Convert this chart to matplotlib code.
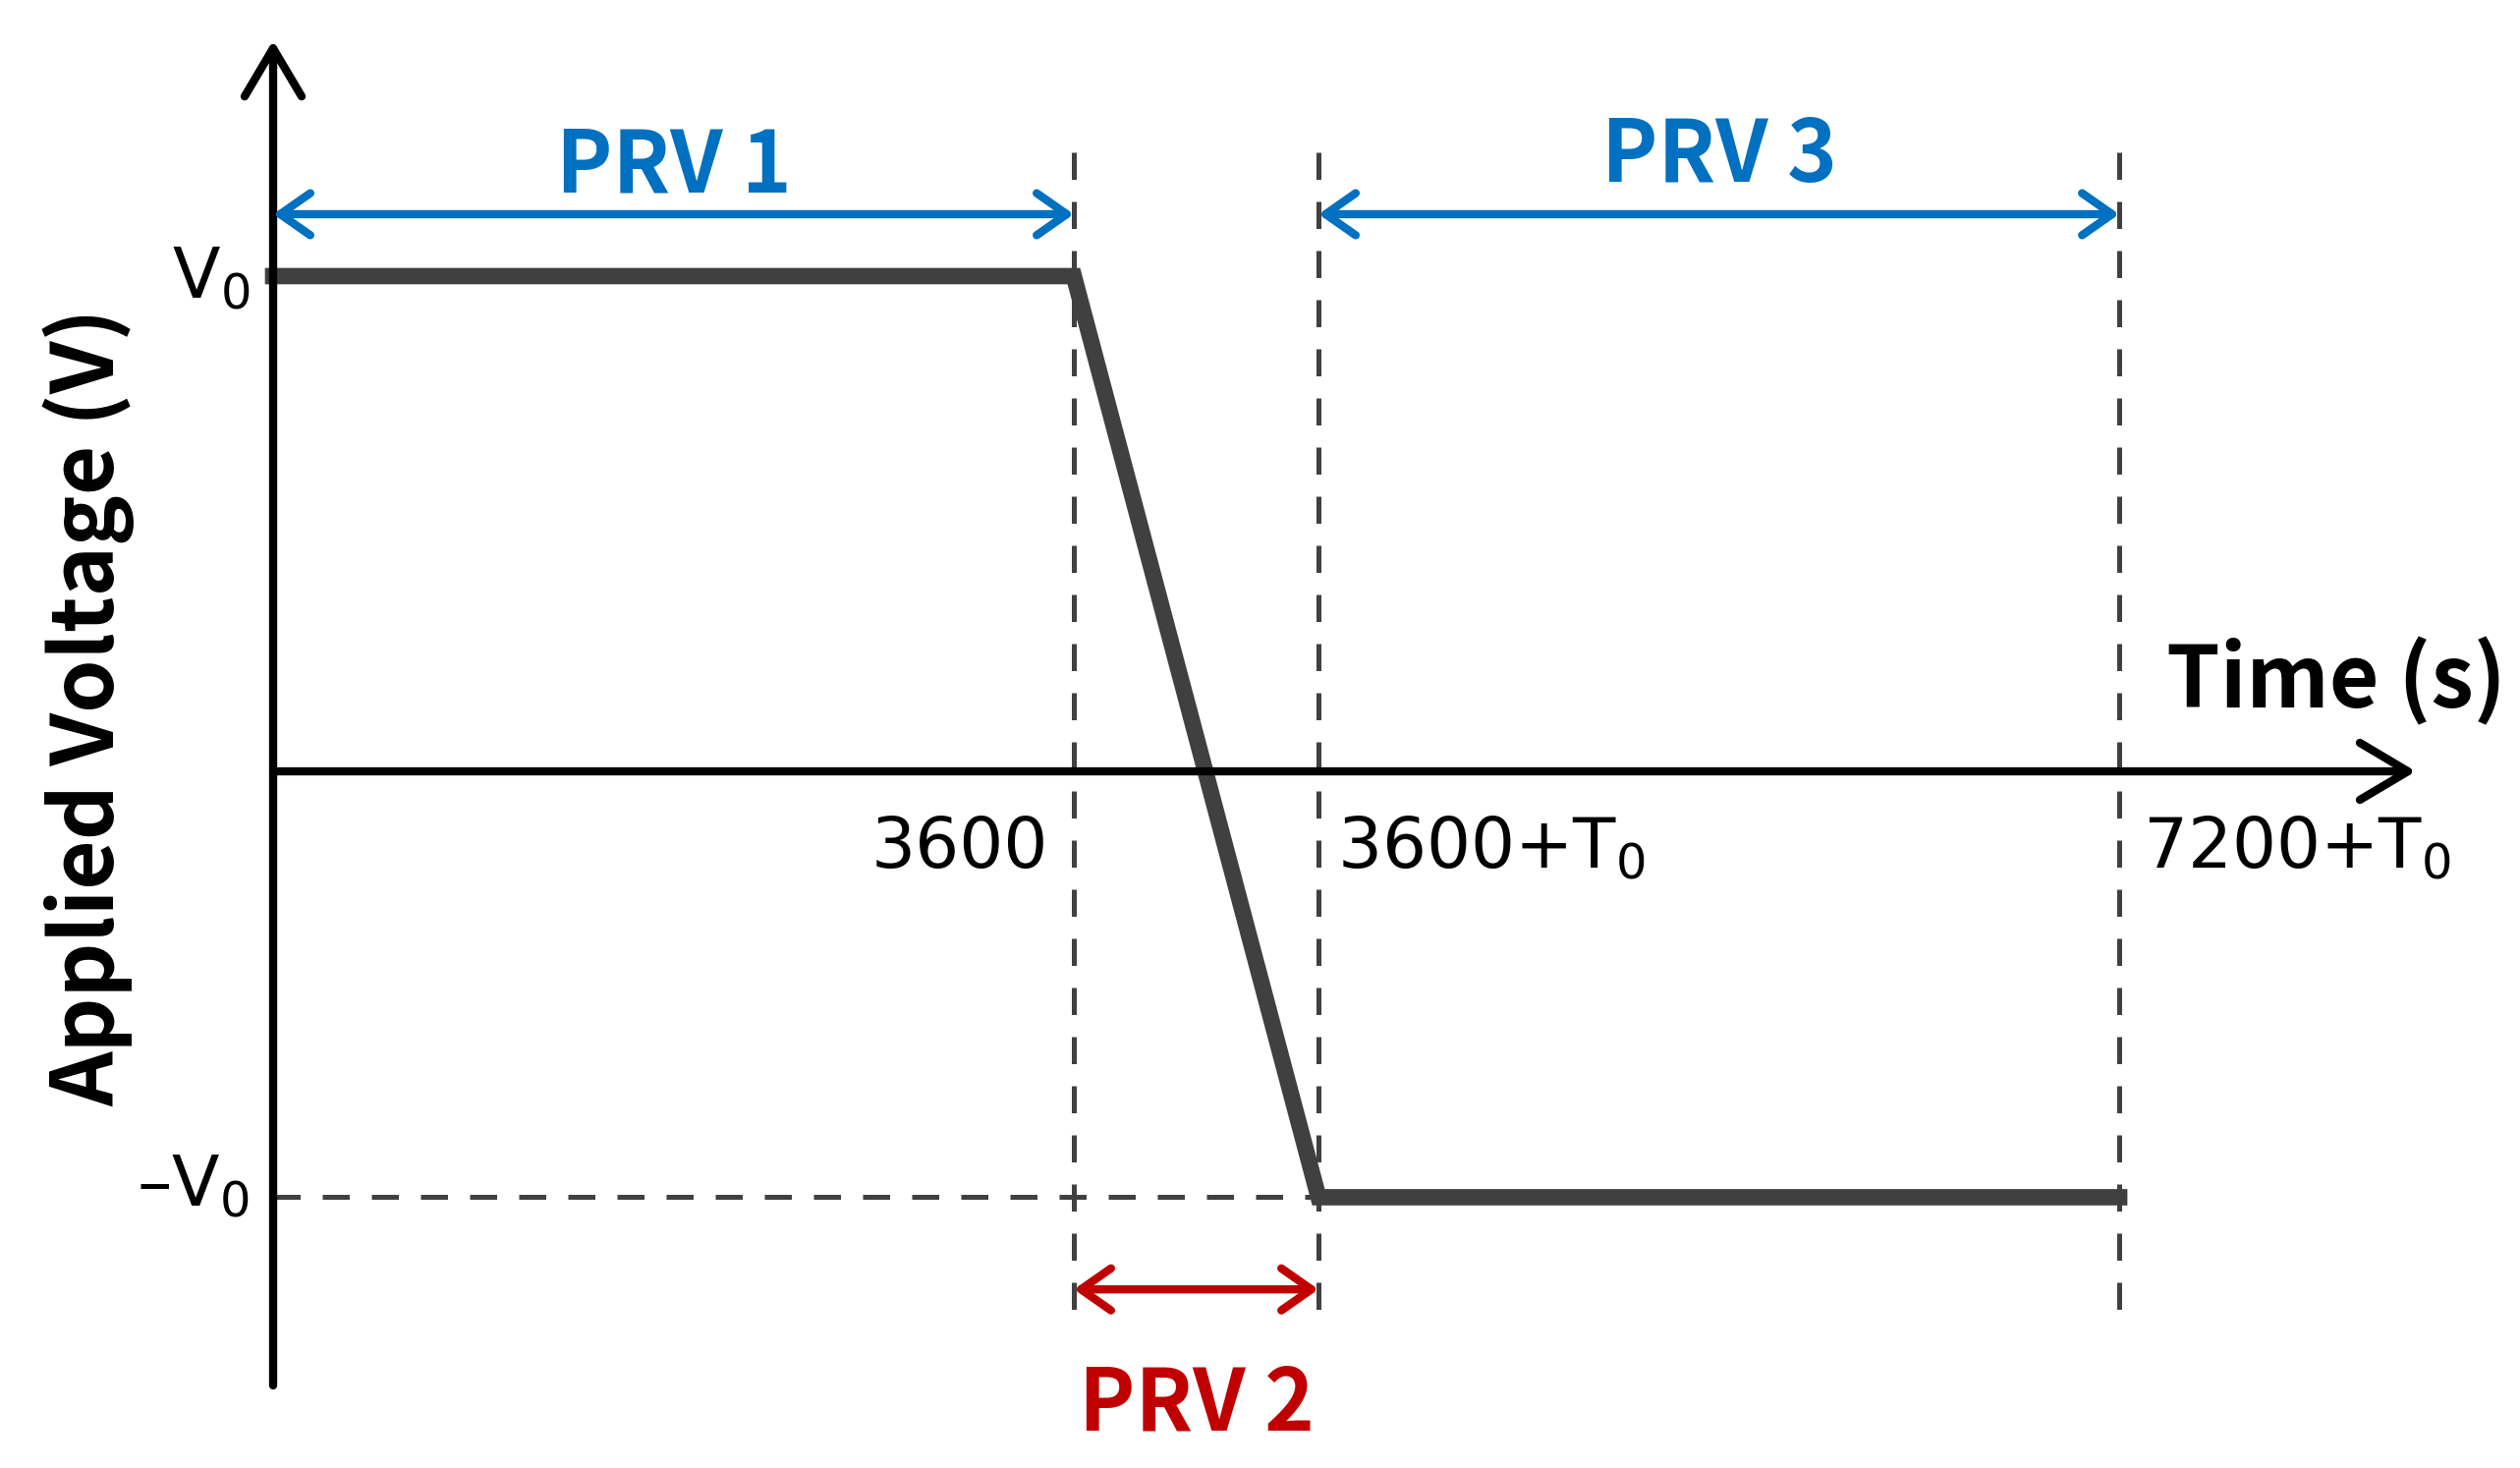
import numpy as np
import matplotlib
matplotlib.use("Agg")
import matplotlib.pyplot as plt

plt.rcParams['font.family'] = ['Noto Sans CJK KR', 'DejaVu Sans']
plt.rcParams['mathtext.fontset'] = 'dejavusans'
plt.rcParams['mathtext.default'] = 'regular'

# waveform data (T0 drawn as ~1100 s, -V0 level)
t_points = [0, 3600, 4700, 8300]
v_points = [1.0, 1.0, -0.86, -0.86]
tick_pos = [3600, 4700, 8300]
tick_labels = ['3600', '3600+T$_0$', '7200+T$_0$']
region_names = ['PRV 1', 'PRV 2', 'PRV 3']
region_spans = [(0, 3600), (3600, 4700), (4700, 8300)]
region_colors = ['#0070C0', '#C00000', '#0070C0']

line_col = '#404040'
reg_font = ['DejaVu Sans']

fig = plt.figure(figsize=(25.65, 14.94), dpi=100)
ax = fig.add_axes([0, 0, 1, 1])
ax.set_xlim(-1228, 10102)
ax.set_ylim(-1.4067, 1.5575)
ax.axis('off')

# axes with arrows
axis_arrow = dict(arrowstyle='->,head_length=1.6,head_width=0.95',
                  mutation_scale=22, linewidth=6, color='black', shrinkA=0, shrinkB=0)
ax.annotate('', xy=(0, 1.476), xytext=(0, -1.24), arrowprops=axis_arrow)
ax.annotate('', xy=(9634, 0), xytext=(0, 0), arrowprops=axis_arrow)

# dashed guides
for tp in tick_pos:
    ax.plot([tp, tp], [1.25, -1.111], color=line_col, lw=3.6, dashes=(5.5, 4.5))
ax.plot([0, t_points[2]], [v_points[2], v_points[2]], color=line_col, lw=3.6, dashes=(5.5, 4.5))

# voltage waveform
ax.plot(t_points, v_points, color=line_col, lw=12, solid_joinstyle='miter')

# region arrows + labels
arrow_y = [1.125, -1.046, 1.125]
text_y = [1.169, -1.331, 1.19]
for name, (a, b), c, ay, ty in zip(region_names, region_spans, region_colors, arrow_y, text_y):
    ax.annotate('', xy=(b, ay), xytext=(a, ay),
                arrowprops=dict(arrowstyle='<->,head_length=1.0,head_width=0.7',
                                mutation_scale=22, linewidth=6, color=c, shrinkA=0, shrinkB=0))
    ax.text((a + b) / 2, ty, name, color=c, fontsize=62, fontweight='bold',
            ha='center', va='baseline')

# tick labels on the time axis
ax.text(tick_pos[0] - 115, -0.194, tick_labels[0], fontsize=51, ha='right', va='baseline', family=reg_font)
ax.text(tick_pos[1] + 84, -0.194, tick_labels[1], fontsize=51, ha='left', va='baseline', family=reg_font)
ax.text(tick_pos[2] + 105, -0.194, tick_labels[2], fontsize=51, ha='left', va='baseline', family=reg_font)

# voltage labels
ax.text(-106, 0.956, 'V$_0$', fontsize=51, ha='right', va='baseline', family=reg_font)
ax.text(-106, -0.877, '\u2013V$_0$', fontsize=51, ha='right', va='baseline', family=reg_font)

# axis titles
ax.text(8512, 0.129, 'Time (s)', fontsize=63, fontweight='bold', ha='left', va='baseline')
ax.text(-830, 0.129, 'Applied Voltage (V)', fontsize=62.5, fontweight='bold',
        rotation=90, ha='center', va='center')

fig.savefig('out.png', dpi=100)
